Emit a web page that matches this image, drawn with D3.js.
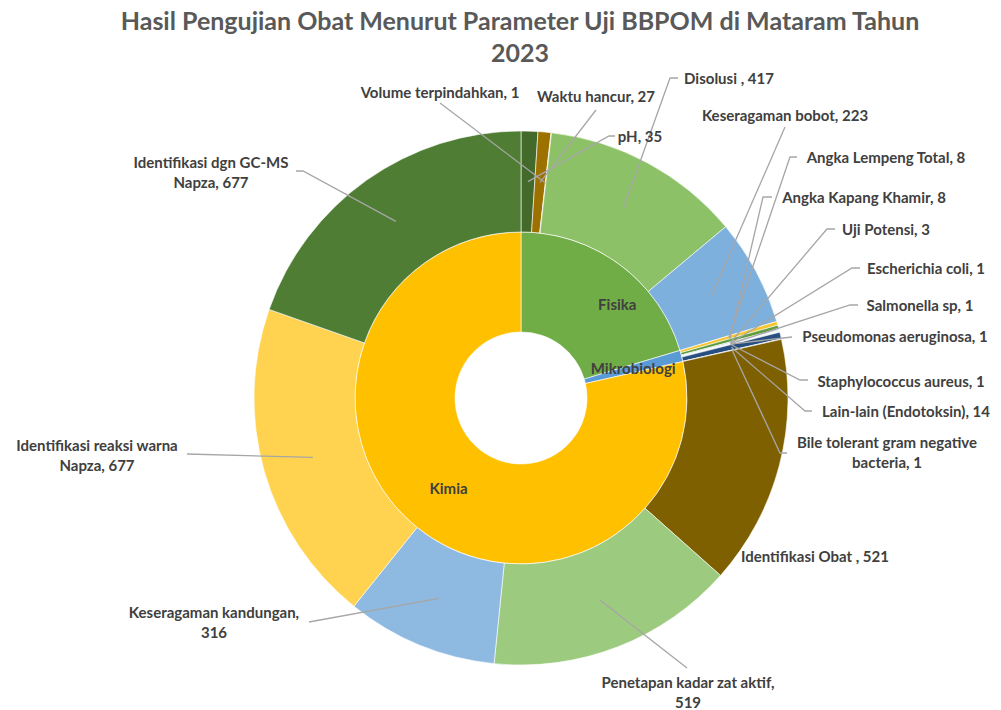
<!DOCTYPE html>
<html>
<head>
<meta charset="utf-8">
<script src="https://cdn.jsdelivr.net/npm/d3@7"></script>
<style>
  body { margin: 0; background: #fff; }
  svg text { font-family: Lato, "Open Sans", sans-serif; font-weight: 700; }
</style>
</head>
<body>
<svg id="chart" width="1001" height="710"></svg>
<script>
// DATA
var categories = ['Fisika', 'Mikrobiologi', 'Kimia'];

var parameters = [
  'pH', 'Waktu hancur', 'Volume terpindahkan', 'Disolusi ', 'Keseragaman bobot',
  'Angka Lempeng Total', 'Angka Kapang Khamir', 'Uji Potensi', 'Escherichia coli',
  'Salmonella sp', 'Pseudomonas aeruginosa', 'Staphylococcus aureus',
  'Lain-lain (Endotoksin)', 'Bile tolerant gram negative bacteria',
  'Identifikasi Obat ', 'Penetapan kadar zat aktif', 'Keseragaman kandungan',
  'Identifikasi reaksi warna Napza', 'Identifikasi dgn GC-MS Napza'
];

var parameterCategory = [
  'Fisika', 'Fisika', 'Fisika', 'Fisika', 'Fisika',
  'Mikrobiologi', 'Mikrobiologi', 'Mikrobiologi', 'Mikrobiologi',
  'Mikrobiologi', 'Mikrobiologi', 'Mikrobiologi', 'Mikrobiologi', 'Mikrobiologi',
  'Kimia', 'Kimia', 'Kimia', 'Kimia', 'Kimia'
];

var parameterValues = [
  35, 27, 1, 417, 223,
  8, 8, 3, 1, 1, 1, 1, 14, 1,
  521, 519, 316, 677, 677
];

// STYLE
var categoryColors = ['#70ad47', '#5b9bd5', '#ffc000'];
var parameterColors = [
  '#43692b', '#9c7100', '#8cc168', '#8cc168', '#7eb0de',
  '#f7c531', '#5f9c3c', '#a9c7e3', '#c9d9a8', '#b7cde6', '#9fbbd8', '#d0d0d0',
  '#264e80', '#8eb0d6',
  '#7f6000', '#9cca7e', '#8eb9e1', '#ffd34f', '#4f7d33'
];

// label layout: text centre (tx, ty), leader start (lx, ly), elbow end x (ex), first line (br)
var labelLayout = {
  'pH': { tx: 640, ty: 137, lx: 615, ly: 136, ex: 609 },
  'Waktu hancur': { tx: 596, ty: 97, lx: 596, ly: 110 },
  'Volume terpindahkan': { tx: 440, ty: 93, lx: 440, ly: 103 },
  'Disolusi ': { tx: 729, ty: 79, lx: 678, ly: 78, ex: 670 },
  'Keseragaman bobot': { tx: 785, ty: 116, lx: 785, ly: 127 },
  'Angka Lempeng Total': { tx: 886, ty: 158, lx: 797, ly: 157, ex: 790 },
  'Angka Kapang Khamir': { tx: 864, ty: 198, lx: 772, ly: 197, ex: 763 },
  'Uji Potensi': { tx: 886, ty: 230, lx: 835, ly: 229, ex: 827 },
  'Escherichia coli': { tx: 926, ty: 269, lx: 860, ly: 268, ex: 852 },
  'Salmonella sp': { tx: 920, ty: 306, lx: 858, ly: 305, ex: 850 },
  'Pseudomonas aeruginosa': { tx: 895, ty: 337, lx: 792, ly: 337 },
  'Staphylococcus aureus': { tx: 901, ty: 382, lx: 808, ly: 380, ex: 800 },
  'Lain-lain (Endotoksin)': { tx: 906, ty: 412, lx: 812, ly: 411, ex: 805 },
  'Bile tolerant gram negative bacteria': { tx: 887, ty: 453, lx: 787, ly: 453, ex: 780, br: 'Bile tolerant gram negative' },
  'Identifikasi Obat ': { tx: 815, ty: 557 },
  'Penetapan kadar zat aktif': { tx: 688, ty: 693, lx: 687, ly: 668, br: 'Penetapan kadar zat aktif,' },
  'Keseragaman kandungan': { tx: 214, ty: 623, lx: 309, ly: 622, br: 'Keseragaman kandungan,' },
  'Identifikasi reaksi warna Napza': { tx: 97, ty: 456, lx: 187, ly: 454, br: 'Identifikasi reaksi warna' },
  'Identifikasi dgn GC-MS Napza': { tx: 211, ty: 173, lx: 296, ly: 171, ex: 303, br: 'Identifikasi dgn GC-MS' }
};

// SETUP
var svg = d3.select('#chart');
var cx = 521, cy = 398;
var holeRadius = 66, midRadius = 166, outerRadius = 267;
var labelSize = '15px';

var g = svg.append('g').attr('transform', 'translate(' + cx + ',' + cy + ')');

var categoryTotals = categories.map(function (c) {
  return {
    name: c,
    value: d3.sum(parameterValues.filter(function (v, i) { return parameterCategory[i] === c; }))
  };
});

var paramData = parameters.map(function (p, i) {
  return { name: p, value: parameterValues[i], color: parameterColors[i] };
});

var pie = d3.pie().sort(null).value(function (d) { return d.value; });

var innerArc = d3.arc().innerRadius(holeRadius).outerRadius(midRadius);
var outerArc = d3.arc().innerRadius(midRadius).outerRadius(outerRadius);

// inner ring
var innerArcs = pie(categoryTotals);
g.selectAll('path.cat')
  .data(innerArcs)
  .enter()
  .append('path')
  .attr('class', 'cat')
  .attr('d', innerArc)
  .attr('fill', function (d, i) { return categoryColors[i]; })
  .attr('stroke', '#fff')
  .attr('stroke-width', 0.6);

// outer ring
var outerArcs = pie(paramData);
g.selectAll('path.param')
  .data(outerArcs)
  .enter()
  .append('path')
  .attr('class', 'param')
  .attr('d', outerArc)
  .attr('fill', function (d) { return d.data.color; })
  .attr('stroke', '#fff')
  .attr('stroke-width', 0.6);

// inner labels
var innerOffset = { 'Fisika': [27, 0] };
g.selectAll('text.cat')
  .data(innerArcs)
  .enter()
  .append('text')
  .attr('class', 'cat')
  .attr('transform', function (d) {
    var c = innerArc.centroid(d);
    var off = innerOffset[d.data.name] || [0, 0];
    return 'translate(' + (c[0] + off[0]) + ',' + (c[1] + off[1]) + ')';
  })
  .attr('text-anchor', 'middle')
  .attr('dy', '0.35em')
  .attr('fill', '#404040')
  .style('font-size', labelSize)
  .text(function (d) { return d.data.name; });

// leader lines (drawn in page coordinates)
var leaders = svg.append('g').attr('class', 'leaders');
outerArcs.forEach(function (d) {
  var lay = labelLayout[d.data.name];
  if (!lay || lay.lx === undefined) return;
  var c = outerArc.centroid(d);
  var pts = [[lay.lx, lay.ly]];
  if (lay.ex !== undefined) pts.push([lay.ex, lay.ly]);
  pts.push([c[0] + cx, c[1] + cy]);
  leaders.append('path')
    .attr('d', d3.line()(pts))
    .attr('fill', 'none')
    .attr('stroke', '#a6a6a6')
    .attr('stroke-width', 1.3);
});

// outer labels
var labels = svg.append('g').attr('class', 'labels');
outerArcs.forEach(function (d) {
  var lay = labelLayout[d.data.name];
  if (!lay) return;
  var full = d.data.name + ', ' + d.data.value;
  var lines = [full];
  if (lay.br) {
    lines = [lay.br, full.slice(lay.br.length).replace(/^,/, '').trim()];
  }
  var t = labels.append('text')
    .attr('text-anchor', 'middle')
    .attr('fill', '#404040')
    .style('font-size', labelSize);
  lines.forEach(function (line, i) {
    t.append('tspan')
      .attr('x', lay.tx)
      .attr('y', lay.ty + (i - (lines.length - 1) / 2) * 20)
      .attr('dy', '0.35em')
      .text(line);
  });
});

// title
var title = svg.append('text')
  .attr('text-anchor', 'middle')
  .attr('fill', '#595959')
  .style('font-size', '25px');
title.append('tspan').attr('x', 520).attr('y', 30).text('Hasil Pengujian Obat Menurut Parameter Uji BBPOM di Mataram Tahun');
title.append('tspan').attr('x', 520).attr('y', 62).text('2023');
</script>
</body>
</html>
